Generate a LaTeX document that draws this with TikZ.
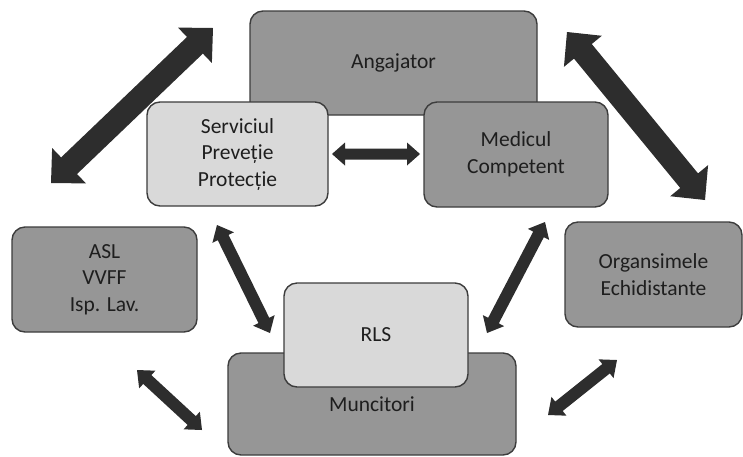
\documentclass[tikz,border=0pt]{standalone}
\usepackage{fontspec}
\setmainfont{Carlito}
\usetikzlibrary{calc}
\definecolor{boxdark}{HTML}{969696}
\definecolor{boxlight}{HTML}{D9D9D9}
\definecolor{boxline}{HTML}{3C3C3C}
\definecolor{arrowcol}{HTML}{2D2D2D}
\definecolor{textcol}{HTML}{1E1E1E}
\newcommand{\dblarrow}[5]{%
  \fill[arrowcol] (#1) -- ($(#1)!#3!(#2)!#4!90:(#2)$) -- ($(#1)!#3!(#2)!#5!90:(#2)$)
   -- ($(#2)!#3!(#1)!#5!-90:(#1)$) -- ($(#2)!#3!(#1)!#4!-90:(#1)$) -- (#2)
   -- ($(#2)!#3!(#1)!#4!90:(#1)$) -- ($(#2)!#3!(#1)!#5!90:(#1)$)
   -- ($(#1)!#3!(#2)!#5!-90:(#2)$) -- ($(#1)!#3!(#2)!#4!-90:(#2)$) -- cycle;}
\tikzset{
  box/.style={draw=boxline, line width=1.4pt, rounded corners=13pt, align=center,
    text=textcol, font=\fontsize{21.5}{26.5}\selectfont, inner sep=0pt},
  darkbox/.style={box, fill=boxdark},
  lightbox/.style={box, fill=boxlight}
}
\begin{document}
\begin{tikzpicture}[x=1pt,y=-1pt]
\useasboundingbox (0,0) rectangle (743,456);
% arrow ends
\coordinate (a1s) at (51,183);  \coordinate (a1e) at (213,28);
\coordinate (a2s) at (567,32);  \coordinate (a2e) at (705,200);
\coordinate (a3s) at (332,154); \coordinate (a3e) at (420,154);
\coordinate (a4s) at (217,225); \coordinate (a4e) at (270,333);
\coordinate (a5s) at (545,222); \coordinate (a5e) at (487,333);
\coordinate (a6s) at (137,370); \coordinate (a6e) at (202,430);
\coordinate (a7s) at (617,360); \coordinate (a7e) at (548,415);
% arrows
\dblarrow{a1s}{a1e}{25pt}{24.5pt}{11.5pt}
\dblarrow{a2s}{a2e}{25pt}{24.5pt}{11.5pt}
\dblarrow{a3s}{a3e}{13pt}{11.5pt}{5.5pt}
\dblarrow{a4s}{a4e}{14pt}{12pt}{6pt}
\dblarrow{a5s}{a5e}{14pt}{12pt}{6pt}
\dblarrow{a6s}{a6e}{14pt}{12pt}{6pt}
\dblarrow{a7s}{a7e}{14pt}{12pt}{6pt}
% boxes
\node[darkbox, minimum width=287pt, minimum height=104pt] (ang) at (393.5,63) {Angajator};
\node[lightbox, minimum width=181pt, minimum height=104pt] (ser) at (237.5,154) {Serviciul\\Preveție\\Protecție};
\node[darkbox, minimum width=184pt, minimum height=105pt] (med) at (516,154.5) {Medicul\\Competent};
\node[darkbox, minimum width=185pt, minimum height=105pt] (asl) at (104.5,279.5) {ASL\\VVFF\\Isp. Lav.};
\node[darkbox, minimum width=177pt, minimum height=105pt] (org) at (653.5,274.5) {Organsimele\\Echidistante};
\node[darkbox, minimum width=288pt, minimum height=102pt] (mun) at (372,404) {Muncitori};
\node[lightbox, minimum width=184pt, minimum height=104pt] (rls) at (376,335) {RLS};
\end{tikzpicture}
\end{document}
